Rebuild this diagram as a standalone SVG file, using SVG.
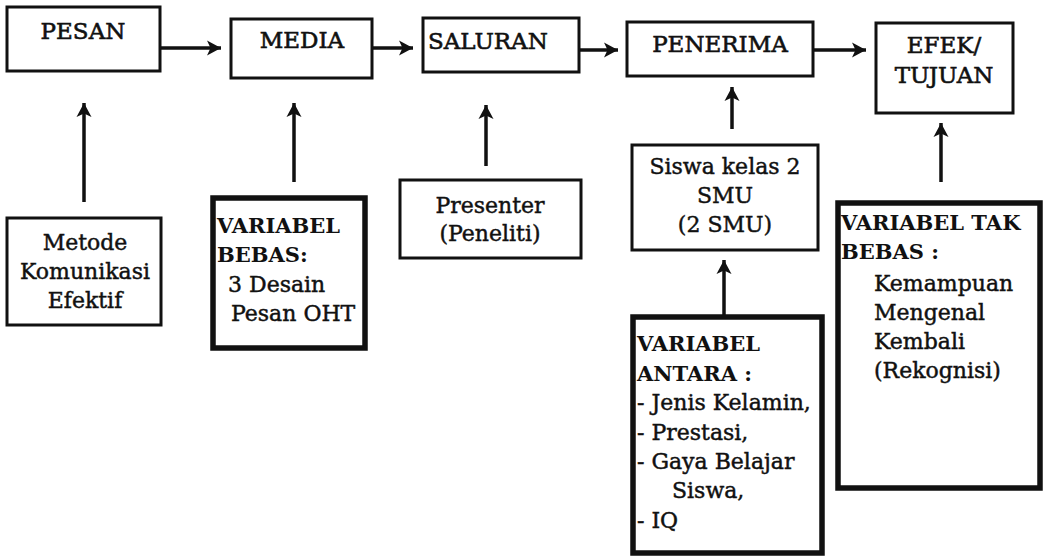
<svg xmlns="http://www.w3.org/2000/svg" width="1056" height="557" viewBox="0 0 1056 557">
<style>
  .box { fill: #fff; stroke: #111; stroke-width: 3; }
  .thick { fill: #fff; stroke: #111; stroke-width: 5.5; }
  .t { font-family: "DejaVu Serif", "Liberation Serif", serif; font-size: 22px; fill: #111; stroke: #111; stroke-width: 0.45; }
  .top { font-family: "DejaVu Serif", "Liberation Serif", serif; font-size: 23px; fill: #111; stroke: #111; stroke-width: 0.6; }
  .b { font-family: "DejaVu Serif", "Liberation Serif", serif; font-size: 21px; font-weight: bold; fill: #111; }
  .c { text-anchor: middle; }
  .conn { stroke: #111; stroke-width: 3.5; fill: none; marker-end: url(#ah); }
</style>
<defs>
  <marker id="ah" markerUnits="userSpaceOnUse" markerWidth="18" markerHeight="18" viewBox="-1 -9 18 18" refX="14" refY="0" orient="auto">
    <path d="M0,-7.5 L14,0 L0,7.5 L3.5,0 z" fill="#111"/>
  </marker>
</defs>
<rect width="1056" height="557" fill="#fff"/>

<g id="connectors">
  <line class="conn" x1="160" y1="48" x2="221" y2="48"/>
  <line class="conn" x1="372" y1="48" x2="413" y2="48"/>
  <line class="conn" x1="579" y1="50" x2="618" y2="50"/>
  <line class="conn" x1="813" y1="50" x2="866" y2="50"/>
  <line class="conn" x1="84" y1="202" x2="84" y2="103"/>
  <line class="conn" x1="294" y1="182" x2="294" y2="103"/>
  <line class="conn" x1="486" y1="166" x2="486" y2="105"/>
  <line class="conn" x1="732" y1="129" x2="732" y2="87"/>
  <line class="conn" x1="724" y1="317" x2="724" y2="260"/>
  <line class="conn" x1="941" y1="182" x2="941" y2="123"/>
</g>

<g id="pesan">
  <rect class="box" x="7" y="7" width="153" height="64"/>
  <text class="top c" x="83" y="39">PESAN</text>
</g>
<g id="media">
  <rect class="box" x="231" y="19" width="141" height="59"/>
  <text class="top c" x="302" y="48">MEDIA</text>
</g>
<g id="saluran">
  <rect class="box" x="423" y="18" width="156" height="54"/>
  <text class="top" x="428" y="49">SALURAN</text>
</g>
<g id="penerima">
  <rect class="box" x="627" y="22" width="186" height="54"/>
  <text class="top c" x="720" y="52">PENERIMA</text>
</g>
<g id="efek">
  <rect class="box" x="876" y="23" width="137" height="90"/>
  <text class="top c" x="944" y="53">EFEK/</text>
  <text class="top c" x="944" y="83">TUJUAN</text>
</g>

<g id="metode">
  <rect class="box" x="7" y="218" width="154" height="107"/>
  <text class="t c" x="85" y="250">Metode</text>
  <text class="t c" x="85" y="279">Komunikasi</text>
  <text class="t c" x="85" y="308">Efektif</text>
</g>
<g id="variabel-bebas">
  <rect class="thick" x="213" y="198" width="152" height="150"/>
  <text class="b" x="217" y="233">VARIABEL</text>
  <text class="b" x="217" y="262">BEBAS:</text>
  <text class="t" x="228" y="292">3 Desain</text>
  <text class="t" x="231" y="321">Pesan OHT</text>
</g>
<g id="presenter">
  <rect class="box" x="400" y="180" width="181" height="78"/>
  <text class="t c" x="490" y="213">Presenter</text>
  <text class="t c" x="490" y="241">(Peneliti)</text>
</g>
<g id="siswa">
  <rect class="box" x="632" y="145" width="186" height="105"/>
  <text class="t c" x="725" y="174">Siswa kelas 2</text>
  <text class="t c" x="725" y="203">SMU</text>
  <text class="t c" x="725" y="232">(2 SMU)</text>
</g>
<g id="variabel-antara">
  <rect class="thick" x="633" y="317" width="189" height="236"/>
  <text class="b" x="637" y="351">VARIABEL</text>
  <text class="b" x="637" y="381">ANTARA :</text>
  <text class="t" x="637" y="410">- Jenis Kelamin,</text>
  <text class="t" x="637" y="440">- Prestasi,</text>
  <text class="t" x="637" y="469">- Gaya Belajar</text>
  <text class="t" x="672" y="498">Siswa,</text>
  <text class="t" x="637" y="528">- IQ</text>
</g>
<g id="variabel-tak-bebas">
  <rect class="thick" x="838" y="203" width="202" height="285"/>
  <text class="b" x="841" y="230">VARIABEL TAK</text>
  <text class="b" x="841" y="259">BEBAS :</text>
  <text class="t" x="874" y="291">Kemampuan</text>
  <text class="t" x="874" y="320">Mengenal</text>
  <text class="t" x="874" y="349">Kembali</text>
  <text class="t" x="874" y="378">(Rekognisi)</text>
</g>
</svg>
